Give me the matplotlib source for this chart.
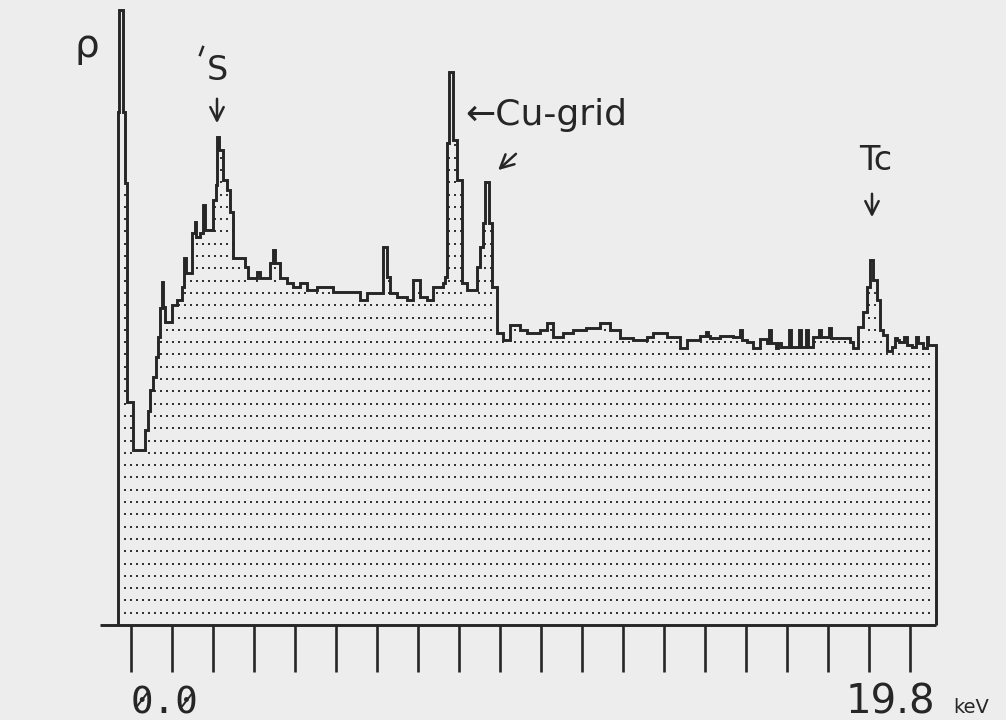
import numpy as np
import matplotlib.pyplot as plt

# EDX spectrum: step edges (keV) and counts per step
edges_kev = [-0.16, -0.14, -0.06, -0.01, 0.05, 0.20, 0.49, 0.57, 0.61, 0.69,
             0.76, 0.82, 0.86, 0.90, 0.93, 0.98, 1.15, 1.27, 1.39, 1.45,
             1.50, 1.64, 1.71, 1.75, 1.84, 1.92, 1.97, 2.16, 2.24, 2.27,
             2.31, 2.41, 2.50, 2.58, 2.66, 2.95, 3.03, 3.24, 3.32, 3.57,
             3.64, 3.69, 3.81, 3.98, 4.14, 4.30, 4.47, 4.71, 5.12, 5.78,
             5.94, 6.35, 6.44, 6.52, 6.68, 6.93, 7.09, 7.26, 7.42, 7.58,
             7.83, 7.87, 7.91, 7.98, 8.07, 8.17, 8.28, 8.40, 8.65, 8.73,
             8.81, 8.86, 8.96, 9.02, 9.14, 9.30, 9.47, 9.71, 9.88, 10.21,
             10.37, 10.53, 10.78, 11.03, 11.35, 11.68, 11.93, 12.17, 12.50, 12.83,
             12.99, 13.32, 13.65, 13.81, 14.14, 14.29, 14.34, 14.39, 14.63, 14.96,
             15.13, 15.17, 15.29, 15.45, 15.62, 15.78, 15.84, 15.89, 16.01, 16.06,
             16.13, 16.33, 16.38, 16.58, 16.63, 16.75, 16.80, 16.93, 17.07, 17.12,
             17.31, 17.36, 17.83, 17.91, 18.03, 18.16, 18.24, 18.32, 18.40, 18.49,
             18.57, 18.65, 18.73, 18.86, 18.94, 18.99, 19.03, 19.17, 19.23, 19.35,
             19.45, 19.50, 19.63, 19.72, 19.76, 19.94]
counts = [513, 615, 513, 442, 223, 175, 195, 214, 235, 248,
          268, 288, 317, 343, 318, 303, 320, 325, 338, 367,
          352, 392, 403, 388, 392, 420, 395, 425, 440, 488,
          475, 445, 435, 413, 367, 358, 347, 353, 347, 362,
          375, 362, 347, 342, 338, 342, 335, 338, 333, 325,
          332, 378, 348, 332, 328, 325, 345, 328, 325, 338,
          342, 348, 482, 553, 485, 445, 342, 335, 358, 378,
          402, 443, 402, 338, 292, 285, 300, 295, 292, 295,
          302, 288, 292, 295, 297, 302, 295, 287, 285, 288,
          292, 288, 277, 285, 289, 293, 289, 287, 289, 288,
          295, 285, 283, 277, 286, 282, 295, 282, 277, 282,
          278, 295, 278, 295, 278, 295, 278, 288, 295, 288,
          297, 287, 283, 277, 298, 313, 338, 365, 345, 325,
          295, 290, 274, 278, 287, 285, 283, 288, 280, 278,
          288, 282, 277, 288, 280]

# page geometry: 40.66 px per keV, 0 keV at x = 125 px, baseline at y = 625 px
def kx(px):
    return (px - 125) / 40.66

def cy(py):
    return 625 - py

ink = '#262626'
paper = '#ededed'

fig = plt.figure(figsize=(10.06, 7.2), dpi=100)
fig.patch.set_facecolor(paper)
ax = fig.add_axes([0, 0, 1, 1])
ax.set_facecolor(paper)
ax.set_xlim(kx(0), kx(1006))
ax.set_ylim(cy(720), cy(0))
ax.axis('off')

edges = np.array(edges_kev)
vals = np.array(counts)

# dotted rows under the curve
row_h = 12.3 * np.arange(1, 50)
xs = np.arange(kx(125), edges[-1] - 0.05, 6 / 40.66)
level = vals[np.clip(np.searchsorted(edges, xs, side='right') - 1, 0, len(vals) - 1)]
dx, dy = [], []
for h in row_h:
    keep = level > h + 3
    dx.extend(xs[keep])
    dy.extend([h] * keep.sum())
ax.scatter(dx, dy, s=1.4, marker='s', color='#333333', linewidths=0)

ax.stairs(vals, edges, baseline=0, color=ink, lw=2.1)
ax.plot([kx(100), edges[-1]], [0, 0], color=ink, lw=2.1, solid_capstyle='butt')

tick_kev = kx(130.7 + 41.0 * np.arange(20))
ax.vlines(tick_kev, cy(672), 0, color=ink, lw=1.9)

# peak labels
arrow = dict(arrowstyle='->', lw=1.8, color=ink, mutation_scale=24)
ax.text(kx(87), cy(46), 'ρ', fontsize=28, color=ink, ha='center', va='center')
ax.plot([kx(200), kx(203)], [cy(55), cy(47)], color=ink, lw=1.8)
ax.text(kx(217), cy(80), 'S', fontsize=24, color=ink, ha='center', va='baseline')
ax.annotate('', xy=(kx(217), cy(126)), xytext=(kx(217), cy(96)), arrowprops=arrow)
ax.text(kx(465), cy(125), '←Cu-grid', fontsize=26, color=ink, ha='left', va='baseline')
ax.annotate('', xy=(kx(496), cy(172)), xytext=(kx(518), cy(152)), arrowprops=arrow)
ax.text(kx(876), cy(170), 'Tc', fontsize=24, color=ink, ha='center', va='baseline')
ax.annotate('', xy=(kx(872), cy(220)), xytext=(kx(872), cy(191)), arrowprops=arrow)

# energy range labels (printer style, slashed zeros)
ax.text(kx(131), cy(713), '0.0', fontsize=27, color=ink, family='DejaVu Sans Mono',
        ha='left', va='baseline')
cell = 0.602 * 27 * 100 / 72
for px in (131 + cell / 2, 131 + 2.5 * cell):
    ax.plot([kx(px - 5), kx(px + 5)], [cy(706), cy(693)], color=ink, lw=1.4)

ax.text(kx(846), cy(713), '19.8', fontsize=29, color=ink, ha='left', va='baseline')
ax.text(kx(953), cy(713), 'keV', fontsize=14, color=ink, ha='left', va='baseline')

fig.savefig('out.png', dpi=100, facecolor=paper)
